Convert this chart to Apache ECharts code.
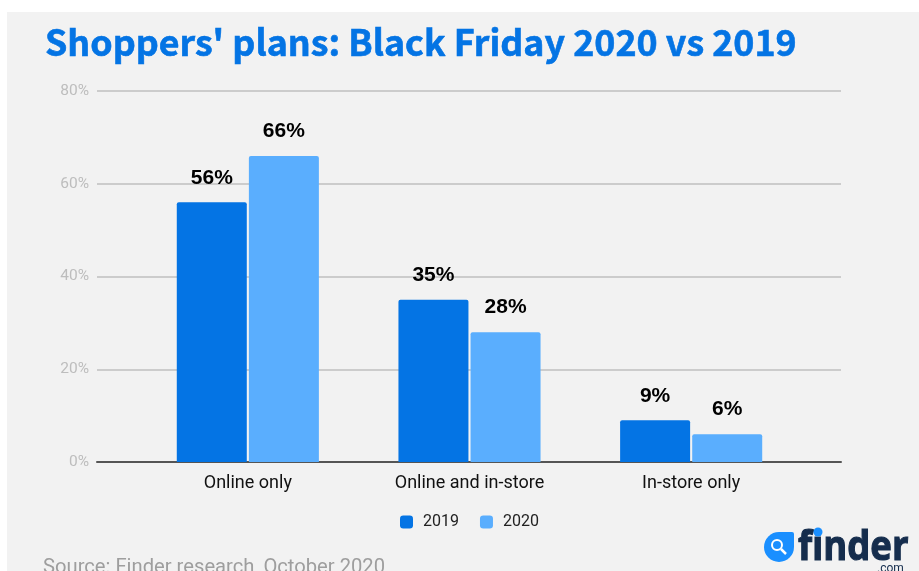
<!DOCTYPE html>
<html>
<head>
<meta charset="utf-8">
<style>
  html, body { margin: 0; padding: 0; background: #ffffff; }
  #chart { width: 919px; height: 571px; }
</style>
<script src="https://cdn.jsdelivr.net/npm/echarts@6/dist/echarts.min.js"></script>
</head>
<body>
<div id="chart"></div>
<script>
const categories = ['Online only', 'Online and in-store', 'In-store only'];
const values2019 = [56, 35, 9];
const values2020 = [66, 28, 6];
const yTicks = [0, 20, 40, 60, 80];

const BLUE_DARK = '#0474e4';
const BLUE_LIGHT = '#5aaefe';

function barSeries(name, values, color) {
  return {
    name,
    type: 'bar',
    xAxisIndex: 1,
    yAxisIndex: 1,
    data: values,
    barWidth: 70,
    barGap: '3%',
    itemStyle: { color, borderRadius: [2, 2, 0, 0] },
    label: {
      show: true,
      position: 'top',
      distance: 14,
      formatter: '{c}%',
      fontFamily: 'Liberation Sans',
      fontWeight: 'bold',
      fontSize: 21,
      color: '#000000'
    }
  };
}

const chart = echarts.init(document.getElementById('chart'), null, { renderer: 'canvas' });
chart.setOption({
  animation: false,
  backgroundColor: '#ffffff',
  title: {
    text: "Shoppers' plans: Black Friday 2020 vs 2019",
    left: 45,
    top: 24,
    padding: 0,
    textStyle: {
      fontFamily: 'Noto Sans CJK JP',
      fontWeight: 'bold',
      fontSize: 35.8,
      color: BLUE_DARK,
      textBorderColor: BLUE_DARK,
      textBorderWidth: 0.6
    }
  },
  legend: {
    left: 395,
    top: 509,
    itemWidth: 13,
    itemHeight: 13,
    itemGap: 21,
    icon: 'roundRect',
    textStyle: { fontFamily: 'Roboto', fontSize: 16, color: '#222222', padding: [0, 0, 0, 5] },
    data: ['2019', '2020']
  },
  // The wide grid carries the value scale and rules; the narrower one holds the bars.
  grid: [
    { left: 97, right: 78, top: 91, height: 371 },
    { left: 137, width: 665, top: 91, height: 371 }
  ],
  xAxis: [
    {
      gridIndex: 0,
      type: 'category',
      data: [''],
      axisTick: { show: false },
      axisLabel: { show: false },
      axisLine: { lineStyle: { color: '#555555', width: 2 } }
    },
    {
      gridIndex: 1,
      type: 'category',
      data: categories,
      axisTick: { show: false },
      axisLine: { show: false },
      axisLabel: {
        margin: 12,
        fontFamily: 'Roboto',
        fontSize: 18,
        color: '#111111'
      }
    }
  ],
  yAxis: [
    {
      gridIndex: 0,
      type: 'value',
      min: yTicks[0],
      max: yTicks[yTicks.length - 1],
      interval: yTicks[1] - yTicks[0],
      axisLine: { show: false },
      axisTick: { show: false },
      axisLabel: {
        margin: 8,
        formatter: '{value}%',
        fontFamily: 'Roboto',
        fontSize: 15.5,
        color: '#bdbdbd',
        padding: [2, 0, 0, 0]
      },
      splitLine: { lineStyle: { color: '#cccccc', width: 2 } }
    },
    {
      gridIndex: 1,
      type: 'value',
      min: yTicks[0],
      max: yTicks[yTicks.length - 1],
      interval: yTicks[1] - yTicks[0],
      show: false
    }
  ],
  series: [
    barSeries('2019', values2019, BLUE_DARK),
    barSeries('2020', values2020, BLUE_LIGHT)
  ],
  graphic: [
    { type: 'rect', z: -10, silent: true, shape: { x: 7, y: 12, width: 912, height: 559 }, style: { fill: '#f2f2f2' } },
    {
      type: 'text', x: 43, y: 558, silent: true,
      style: { text: 'Source: Finder research, October 2020', font: '20.2px Roboto', fill: '#9e9e9e' }
    },
    // finder.com mark: droplet with magnifier, wordmark, domain
    { type: 'circle', silent: true, shape: { cx: 779, cy: 547, r: 15 }, style: { fill: '#1a8fff' } },
    { type: 'rect', silent: true, shape: { x: 779, y: 532, width: 15, height: 15, r: [0, 2, 0, 0] }, style: { fill: '#1a8fff' } },
    { type: 'circle', silent: true, shape: { cx: 777, cy: 545, r: 5 }, style: { fill: 'none', stroke: '#ffffff', lineWidth: 2 } },
    { type: 'line', silent: true, shape: { x1: 781, y1: 549, x2: 786, y2: 554 }, style: { stroke: '#ffffff', lineWidth: 2.5 } },
    {
      type: 'text', x: 798, y: 527, scaleY: 1.15, silent: true,
      style: { text: 'finder', font: 'bold 36.5px "Open Sans"', fill: '#152d4d', stroke: '#152d4d', lineWidth: 1 }
    },
    { type: 'circle', silent: true, z: 20, shape: { cx: 818, cy: 532, r: 4.5 }, style: { fill: '#1a8fff' } },
    {
      type: 'text', x: 877, y: 563, silent: true,
      style: { text: '.com', font: '12px Roboto', fill: '#152d4d' }
    }
  ]
});
</script>
</body>
</html>
